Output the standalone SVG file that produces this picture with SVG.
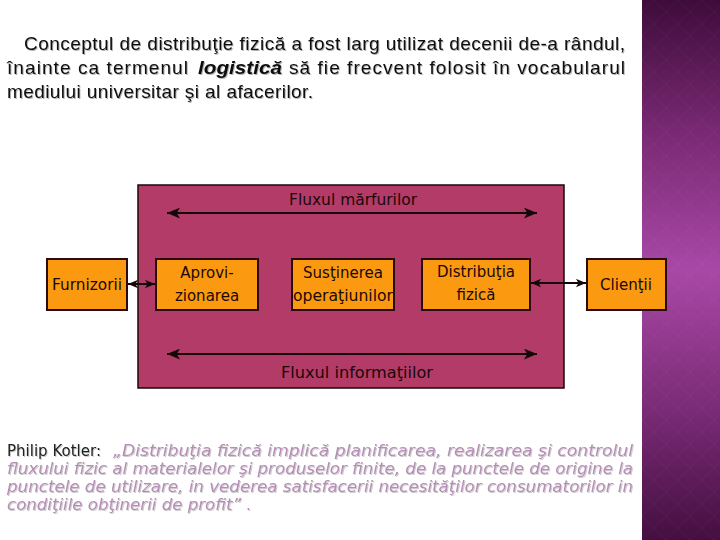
<svg xmlns="http://www.w3.org/2000/svg" width="720" height="540" viewBox="0 0 720 540">
  <defs>
    <linearGradient id="band" x1="0" y1="0" x2="0" y2="1">
      <stop offset="0" stop-color="#3e0c3a"/>
      <stop offset="0.25" stop-color="#7a2a74"/>
      <stop offset="0.5" stop-color="#a848a6"/>
      <stop offset="0.75" stop-color="#7c2c78"/>
      <stop offset="1" stop-color="#440f40"/>
    </linearGradient>
    <pattern id="diam" width="24" height="24" patternUnits="userSpaceOnUse" x="642">
      <path d="M12,0 L24,12 L12,24 L0,12 Z" fill="none" stroke="#ffffff" stroke-opacity="0.03" stroke-width="1"/>
    </pattern>
    <marker id="ah" viewBox="0 0 12 10" refX="12" refY="5" markerWidth="13" markerHeight="11" markerUnits="userSpaceOnUse" orient="auto-start-reverse">
      <path d="M0,0 L12,5 L0,10 L3,5 Z" fill="#140808"/>
    </marker>
    <marker id="ahs" viewBox="0 0 12 10" refX="12" refY="5" markerWidth="10" markerHeight="9" markerUnits="userSpaceOnUse" orient="auto-start-reverse">
      <path d="M0,0 L12,5 L0,10 L3,5 Z" fill="#140808"/>
    </marker>
    <filter id="sh" x="-5%" y="-20%" width="110%" height="150%">
      <feDropShadow dx="1" dy="1" stdDeviation="0.6" flood-color="#000" flood-opacity="0.3"/>
    </filter>
    <filter id="sh2" x="-5%" y="-20%" width="110%" height="150%">
      <feDropShadow dx="1" dy="1" stdDeviation="0.5" flood-color="#000" flood-opacity="0.2"/>
    </filter>
    <style>
      .head { font-family: "Liberation Sans", "DejaVu Sans", sans-serif; font-size: 19px; fill: #111; }
      .quote { font-family: "DejaVu Sans", "Liberation Sans", sans-serif; font-size: 15px; }
      .q { fill: #b58db5; font-style: italic; }
      .lbl { font-family: "DejaVu Sans", "Liberation Sans", sans-serif; font-size: 15px; fill: #1a0808; text-anchor: middle; }
      .box { fill: #fb9a10; stroke: #2a0a0a; stroke-width: 2; }
      .flow { stroke: #140808; stroke-width: 2; fill: none; marker-start: url(#ah); marker-end: url(#ah); }
      .link { stroke: #140808; stroke-width: 2; fill: none; marker-start: url(#ahs); marker-end: url(#ahs); }
    </style>
  </defs>

  <rect x="0" y="0" width="720" height="540" fill="#ffffff"/>
  <rect x="642" y="0" width="78" height="540" fill="url(#band)"/>
  <rect x="642" y="0" width="78" height="540" fill="url(#diam)"/>

  <g id="heading" class="head" filter="url(#sh)">
    <text x="24" y="50" textLength="601" lengthAdjust="spacing">Conceptul de distribuţie fizică a fost larg utilizat decenii de-a rândul,</text>
    <text x="7" y="74" textLength="181" lengthAdjust="spacing">înainte ca termenul</text>
    <text x="198" y="74" textLength="84" lengthAdjust="spacingAndGlyphs" font-weight="bold" font-style="italic">logistică</text>
    <text x="289" y="74" textLength="336" lengthAdjust="spacing">să fie frecvent folosit în vocabularul</text>
    <text x="7" y="98" textLength="306" lengthAdjust="spacing">mediului universitar şi al afacerilor.</text>
  </g>

  <g id="main-box">
    <rect x="138" y="185" width="426" height="203" fill="#b33b67" stroke="#1a0808" stroke-width="1.5"/>
    <text class="lbl" x="353" y="205" textLength="128" lengthAdjust="spacingAndGlyphs">Fluxul mărfurilor</text>
    <text class="lbl" x="357" y="378" textLength="152" lengthAdjust="spacingAndGlyphs">Fluxul informaţiilor</text>
  </g>

  <g id="connectors">
    <line class="flow" x1="167" y1="213" x2="537" y2="213"/>
    <line class="flow" x1="167" y1="354" x2="537" y2="354"/>
    <line class="link" x1="128" y1="284" x2="155" y2="284"/>
    <line class="link" x1="531" y1="283" x2="586" y2="283"/>
  </g>

  <g id="furnizorii">
    <rect class="box" x="47" y="259" width="80" height="51"/>
    <text class="lbl" x="87" y="290" textLength="70" lengthAdjust="spacingAndGlyphs">Furnizorii</text>
  </g>
  <g id="aprovizionarea">
    <rect class="box" x="156" y="259" width="102" height="51"/>
    <text class="lbl" x="207" y="278">Aprovi-</text>
    <text class="lbl" x="207" y="301">zionarea</text>
  </g>
  <g id="sustinerea">
    <rect class="box" x="292" y="259" width="102" height="51"/>
    <text class="lbl" x="343" y="278">Susţinerea</text>
    <text class="lbl" x="343" y="301" textLength="100" lengthAdjust="spacingAndGlyphs">operaţiunilor</text>
  </g>
  <g id="distributia">
    <rect class="box" x="422" y="259" width="108" height="51"/>
    <text class="lbl" x="476" y="277">Distribuţia</text>
    <text class="lbl" x="476" y="300">fizică</text>
  </g>
  <g id="clientii">
    <rect class="box" x="587" y="259" width="79" height="51"/>
    <text class="lbl" x="626" y="290">Clienţii</text>
  </g>

  <g id="quote" class="quote" filter="url(#sh2)">
    <text x="7" y="456" fill="#222" textLength="94" lengthAdjust="spacingAndGlyphs">Philip Kotler:</text>
    <text class="q" x="113" y="456" textLength="520" lengthAdjust="spacingAndGlyphs">„Distribuţia fizică implică planificarea, realizarea şi controlul</text>
    <text class="q" x="7" y="474" textLength="626" lengthAdjust="spacingAndGlyphs">fluxului fizic al materialelor şi produselor finite, de la punctele de origine la</text>
    <text class="q" x="7" y="492" textLength="626" lengthAdjust="spacingAndGlyphs">punctele de utilizare, in vederea satisfacerii necesităţilor consumatorilor in</text>
    <text class="q" x="7" y="510" textLength="234" lengthAdjust="spacingAndGlyphs">condiţiile obţinerii de profit”</text>
    <text x="246" y="510" fill="#b58db5">.</text>
  </g>
</svg>
